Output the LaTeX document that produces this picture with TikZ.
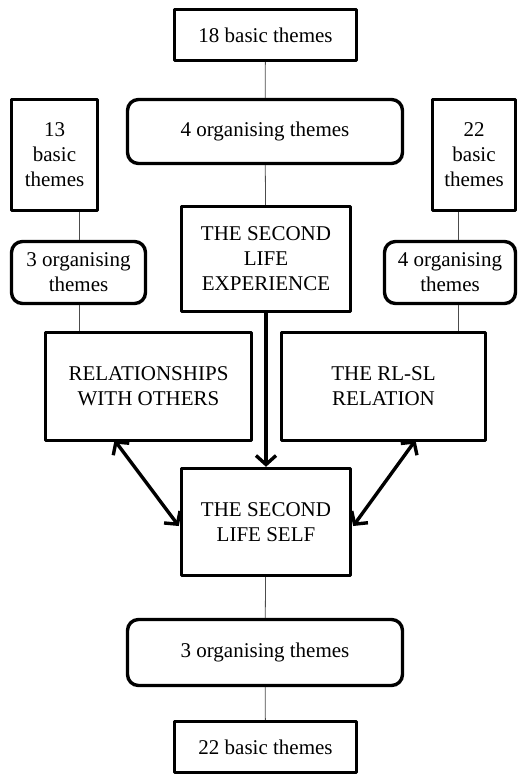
\documentclass[tikz,border=0pt]{standalone}
\usepackage{fontspec}
\setmainfont{Liberation Serif}
\usetikzlibrary{arrows.meta}
\tikzset{
  sqbox/.style={draw, line width=3.4pt, align=center, inner sep=0pt},
  rdbox/.style={sqbox, rounded corners=11pt},
  thin link/.style={line width=0.8pt, black!70},
  heavy link/.style={line width=3.4pt, {Straight Barb[length=9pt,width=20pt]}-{Straight Barb[length=9pt,width=20pt]}}
}
\begin{document}
\begin{tikzpicture}[x=1pt, y=-1pt, font=\fontsize{21}{25}\selectfont, line join=round]
			\useasboundingbox (0,0) rectangle (518,774);
			% top branch
			\node[sqbox, minimum width=182pt, minimum height=51pt] (topbasic) at (265.5,35) {18 basic themes};
			\node[rdbox, minimum width=275pt, minimum height=64pt] (toporg) at (265,131.5) {4 organising themes};
			\node[sqbox, minimum width=169pt, minimum height=105pt] (experience) at (266,259) {THE SECOND\\LIFE\\EXPERIENCE};
			% left branch
			\node[sqbox, minimum width=86pt, minimum height=111pt] (leftbasic) at (54.5,155) {13\\basic\\themes};
			\node[rdbox, minimum width=134pt, minimum height=62pt] (leftorg) at (78.5,272.5) {3 organising\\themes};
			\node[sqbox, minimum width=206pt, minimum height=108pt] (others) at (148.5,386.5) {RELATIONSHIPS\\WITH OTHERS};
			% right branch
			\node[sqbox, minimum width=83pt, minimum height=111pt] (rightbasic) at (474,155) {22\\basic\\themes};
			\node[rdbox, minimum width=131pt, minimum height=62pt] (rightorg) at (450,272.5) {4 organising\\themes};
			\node[sqbox, minimum width=204pt, minimum height=108pt] (rlsl) at (383.5,386.5) {THE RL-SL\\RELATION};
			% bottom branch
			\node[sqbox, minimum width=169pt, minimum height=107pt] (self) at (266,522) {THE SECOND\\LIFE SELF};
			\node[rdbox, minimum width=275pt, minimum height=66pt] (botorg) at (265,652.5) {3 organising themes};
			\node[sqbox, minimum width=182pt, minimum height=51pt] (botbasic) at (265.5,747) {22 basic themes};
			
			\coordinate (xL) at (79,0);
			\coordinate (xR) at (458,0);
			
			\draw[thin link] (topbasic) -- (toporg);
			\draw[thin link] (toporg) -- (experience);
			\draw[thin link] (leftbasic.south -| xL) -- (leftorg.north -| xL);
			\draw[thin link] (leftorg.south -| xL) -- (others.north -| xL);
			\draw[thin link] (rightbasic.south -| xR) -- (rightorg.north -| xR);
			\draw[thin link] (rightorg.south -| xR) -- (rlsl.north -| xR);
			\draw[thin link] (self) -- (botorg);
			\draw[thin link] (botorg) -- (botbasic);
			
			\draw[heavy link, {}-{Straight Barb[length=9pt,width=20pt]}] (experience) -- (self);
			\draw[heavy link] ([xshift=-34pt,yshift=2pt]others.south) -- ([xshift=-1pt,yshift=-4pt]self.west);
			\draw[heavy link] ([xshift=32pt,yshift=2pt]rlsl.south) -- ([xshift=1pt,yshift=-4pt]self.east);
		\end{tikzpicture}
\end{document}
